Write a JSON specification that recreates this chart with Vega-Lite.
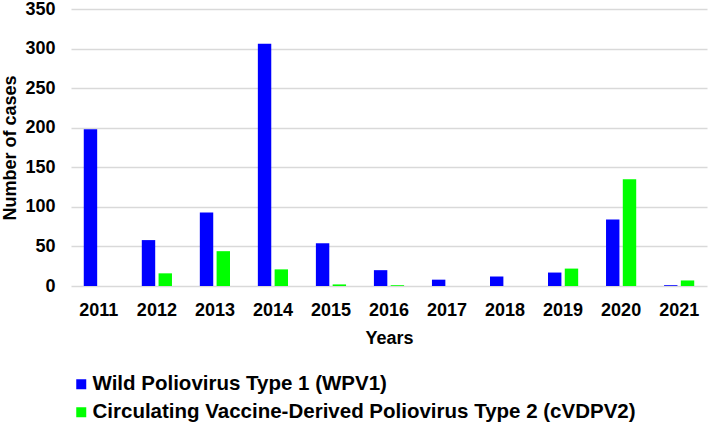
{
  "$schema": "https://vega.github.io/schema/vega-lite/v6.json",
  "width": 636,
  "height": 277,
  "autosize": "none",
  "padding": {"left": 71, "top": 9, "right": 2, "bottom": 142},
  "background": "white",
  "config": {
    "font": "Liberation Sans",
    "view": {"stroke": null}
  },
  "data": {
    "values": [
      {"year": "2011", "type": "Wild Poliovirus Type 1 (WPV1)", "cases": 198},
      {"year": "2011", "type": "Circulating Vaccine-Derived Poliovirus Type 2 (cVDPV2)", "cases": 0},
      {"year": "2012", "type": "Wild Poliovirus Type 1 (WPV1)", "cases": 58},
      {"year": "2012", "type": "Circulating Vaccine-Derived Poliovirus Type 2 (cVDPV2)", "cases": 16},
      {"year": "2013", "type": "Wild Poliovirus Type 1 (WPV1)", "cases": 93},
      {"year": "2013", "type": "Circulating Vaccine-Derived Poliovirus Type 2 (cVDPV2)", "cases": 44},
      {"year": "2014", "type": "Wild Poliovirus Type 1 (WPV1)", "cases": 306},
      {"year": "2014", "type": "Circulating Vaccine-Derived Poliovirus Type 2 (cVDPV2)", "cases": 21},
      {"year": "2015", "type": "Wild Poliovirus Type 1 (WPV1)", "cases": 54},
      {"year": "2015", "type": "Circulating Vaccine-Derived Poliovirus Type 2 (cVDPV2)", "cases": 2},
      {"year": "2016", "type": "Wild Poliovirus Type 1 (WPV1)", "cases": 20},
      {"year": "2016", "type": "Circulating Vaccine-Derived Poliovirus Type 2 (cVDPV2)", "cases": 1},
      {"year": "2017", "type": "Wild Poliovirus Type 1 (WPV1)", "cases": 8},
      {"year": "2017", "type": "Circulating Vaccine-Derived Poliovirus Type 2 (cVDPV2)", "cases": 0},
      {"year": "2018", "type": "Wild Poliovirus Type 1 (WPV1)", "cases": 12},
      {"year": "2018", "type": "Circulating Vaccine-Derived Poliovirus Type 2 (cVDPV2)", "cases": 0},
      {"year": "2019", "type": "Wild Poliovirus Type 1 (WPV1)", "cases": 17},
      {"year": "2019", "type": "Circulating Vaccine-Derived Poliovirus Type 2 (cVDPV2)", "cases": 22},
      {"year": "2020", "type": "Wild Poliovirus Type 1 (WPV1)", "cases": 84},
      {"year": "2020", "type": "Circulating Vaccine-Derived Poliovirus Type 2 (cVDPV2)", "cases": 135},
      {"year": "2021", "type": "Wild Poliovirus Type 1 (WPV1)", "cases": 1},
      {"year": "2021", "type": "Circulating Vaccine-Derived Poliovirus Type 2 (cVDPV2)", "cases": 7}
    ]
  },
  "mark": {"type": "bar"},
  "encoding": {
    "x": {
      "field": "year",
      "type": "nominal",
      "scale": {"paddingInner": 0.48, "paddingOuter": 0.22},
      "axis": {
        "title": "Years",
        "labelAngle": 0,
        "labelFontSize": 18,
        "labelFontWeight": "bold",
        "labelColor": "black",
        "labelPadding": 15,
        "ticks": false,
        "domain": false,
        "titleFontSize": 18,
        "titleFontWeight": "bold",
        "titleColor": "black",
        "titlePadding": 10
      }
    },
    "xOffset": {
      "field": "type",
      "type": "nominal",
      "sort": ["Wild Poliovirus Type 1 (WPV1)", "Circulating Vaccine-Derived Poliovirus Type 2 (cVDPV2)"],
      "scale": {"paddingInner": 0.2}
    },
    "y": {
      "field": "cases",
      "type": "quantitative",
      "scale": {"domain": [0, 350]},
      "axis": {
        "title": "Number of cases",
        "values": [0, 50, 100, 150, 200, 250, 300, 350],
        "labelFontSize": 18,
        "labelFontWeight": "bold",
        "labelColor": "black",
        "labelPadding": 16,
        "ticks": false,
        "domain": false,
        "gridColor": "#d9d9d9",
        "gridWidth": 1.5,
        "titleFontSize": 18,
        "titleFontWeight": "bold",
        "titleColor": "black",
        "titlePadding": 5
      }
    },
    "color": {
      "field": "type",
      "type": "nominal",
      "sort": ["Wild Poliovirus Type 1 (WPV1)", "Circulating Vaccine-Derived Poliovirus Type 2 (cVDPV2)"],
      "scale": {"range": ["#0000ff", "#00ff00"]},
      "legend": {
        "title": null,
        "orient": "none",
        "legendX": 0,
        "legendY": 365,
        "direction": "vertical",
        "symbolType": "square",
        "symbolSize": 100,
        "symbolStrokeWidth": 0,
        "labelFontSize": 20.5,
        "labelFontWeight": "bold",
        "labelColor": "black",
        "labelOffset": 1,
        "rowPadding": 7,
        "labelLimit": 700
      }
    }
  }
}
